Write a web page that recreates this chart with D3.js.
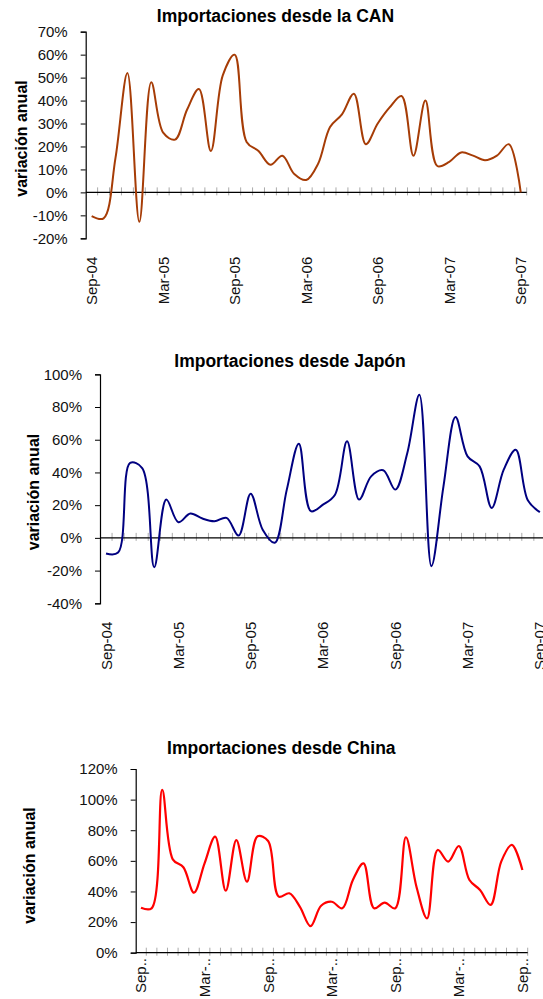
<!DOCTYPE html>
<html><head><meta charset="utf-8">
<script src="https://cdn.jsdelivr.net/npm/d3@7"></script>
<style>
html,body{margin:0;padding:0;background:#fff;}
svg{display:block;font-family:"Liberation Sans",Arial,sans-serif;}
</style></head>
<body>
<svg id="c" width="543" height="999"></svg>
<script>
const months = ["Sep-04","Oct-04","Nov-04","Dec-04","Jan-05","Feb-05","Mar-05","Apr-05","May-05","Jun-05","Jul-05","Aug-05",
"Sep-05","Oct-05","Nov-05","Dec-05","Jan-06","Feb-06","Mar-06","Apr-06","May-06","Jun-06","Jul-06","Aug-06",
"Sep-06","Oct-06","Nov-06","Dec-06","Jan-07","Feb-07","Mar-07","Apr-07","May-07","Jun-07","Jul-07","Aug-07","Sep-07"];

const canValues = [-10.3,-11.3,15,52,-12.8,48,26,23,36,45,18,51,60,22,18,12,16,8,5.4,12.5,28.5,34,43,21,30,37,42,16,40,11.5,13.3,17.4,16,14,16,21,0];
const japonValues = [-9.6,-9,45.8,42.7,-17.9,23.4,9.6,14.9,11.8,10.2,12.2,1.4,27,5,-3,29.5,57.6,16.3,20.3,26.4,59,23.4,37.6,41.3,29.5,51.9,87.5,-17.3,31.5,73.9,49.8,43.7,18.3,41.7,53.9,23,15.7];
const chinaValues = [29.4,29,106.3,61,55.8,39.2,58.4,75.8,40.5,73.6,46.4,76,73,36.6,38.8,30,17.4,30.7,33.3,29,47.5,58.4,29,32.7,29,75.4,43.1,22.4,67.1,59.5,69.7,47.5,41,31.2,59.5,70.4,54];

const titles = ["Importaciones desde la CAN","Importaciones desde Japón","Importaciones desde China"];
const yTitle = "variación anual";
const canTicks = [-20,-10,0,10,20,30,40,50,60,70];
const japonTicks = [-40,-20,0,20,40,60,80,100];
const chinaTicks = [0,20,40,60,80,100,120];
const labelIdx = [0,6,12,18,24,30,36];
const chinaLabels = ["Sep..","Mar-..","Sep..","Mar-..","Sep..","Mar-..","Sep.."];

const svg = d3.select("#c");

function drawChart(o){
  const g = svg.append("g");
  const x = d3.scaleBand().domain(months).range([o.left,o.right]).paddingInner(0).paddingOuter(0);
  const y = d3.scaleLinear().domain(o.domain).range([o.bottom,o.top]);
  const y0 = y(0);
  // title
  g.append("text").attr("x",o.titleX).attr("y",o.titleY).attr("text-anchor","middle")
    .attr("font-weight","bold").attr("font-size",17.5).attr("fill","#000").text(o.title);
  // y title
  g.append("text").attr("transform",`translate(${o.yTitleX},${o.yTitleY}) rotate(-90)`)
    .attr("text-anchor","middle").attr("dy","0.35em").attr("font-weight","bold").attr("font-size",16).text(yTitle);
  // y axis
  const ya = d3.axisLeft(y).tickValues(o.ticks).tickFormat(d=>d+"%").tickSize(5).tickPadding(o.tickPad);
  const yg = g.append("g").attr("transform",`translate(${o.left},0)`).call(ya);
  yg.select(".domain").attr("stroke","#000").attr("stroke-width",1.2);
  yg.selectAll(".tick line").attr("stroke","#000");
  yg.selectAll(".tick text").attr("font-size",15).attr("fill","#111").attr("font-family","Liberation Sans, Arial, sans-serif");
  // category ticks (cross)
  const bounds = months.map((m)=>x(m)).slice(1).concat([o.right]);
  g.selectAll("line.ct").data(bounds).enter().append("line")
    .attr("x1",d=>d).attr("x2",d=>d).attr("y1",y0-5).attr("y2",y0+3)
    .attr("stroke","#aaa").attr("stroke-width",1);
  // x axis line
  g.append("line").attr("x1",o.left).attr("x2",o.right).attr("y1",y0).attr("y2",y0)
    .attr("stroke","#000").attr("stroke-width",1.2);
  // x labels
  labelIdx.forEach((li,k)=>{
    const cx = x(months[li]) + x.bandwidth()/2;
    g.append("text").attr("transform",`translate(${cx+5.5},${o.labelY}) rotate(-90)`)
      .attr("text-anchor","end").attr("font-size",15).attr("fill","#111")
      .text(o.labels ? o.labels[k] : months[li]);
  });
  // line
  const line = d3.line().x((d,i)=>x(months[i])+x.bandwidth()/2).y(d=>y(d)).curve(d3.curveCatmullRom.alpha(0.5));
  g.append("path").datum(o.values).attr("d",line).attr("fill","none")
    .attr("stroke",o.color).attr("stroke-width",o.sw).attr("stroke-linejoin","round");
}

drawChart({title:titles[0],values:canValues,ticks:canTicks,domain:[-20,70],left:85.7,right:526.7,top:31.7,bottom:238.3,
  titleX:275.5,titleY:22,yTitleX:21.7,yTitleY:138.5,tickPad:13,labelY:256.7,color:"#A63C06",sw:2});
drawChart({title:titles[1],values:japonValues,ticks:japonTicks,domain:[-40,100],left:100,right:545.9,top:374.3,bottom:603.3,
  titleX:290,titleY:366.7,yTitleX:33.3,yTitleY:492,tickPad:13,labelY:621.7,color:"#000080",sw:2});
drawChart({title:titles[2],values:chinaValues,ticks:chinaTicks,domain:[0,120],left:135.7,right:527.7,top:769,bottom:952.7,
  titleX:281.3,titleY:754,yTitleX:29.3,yTitleY:865.5,tickPad:13,labelY:958,labels:chinaLabels,color:"#FF0000",sw:2.2});
</script>
</body></html>
